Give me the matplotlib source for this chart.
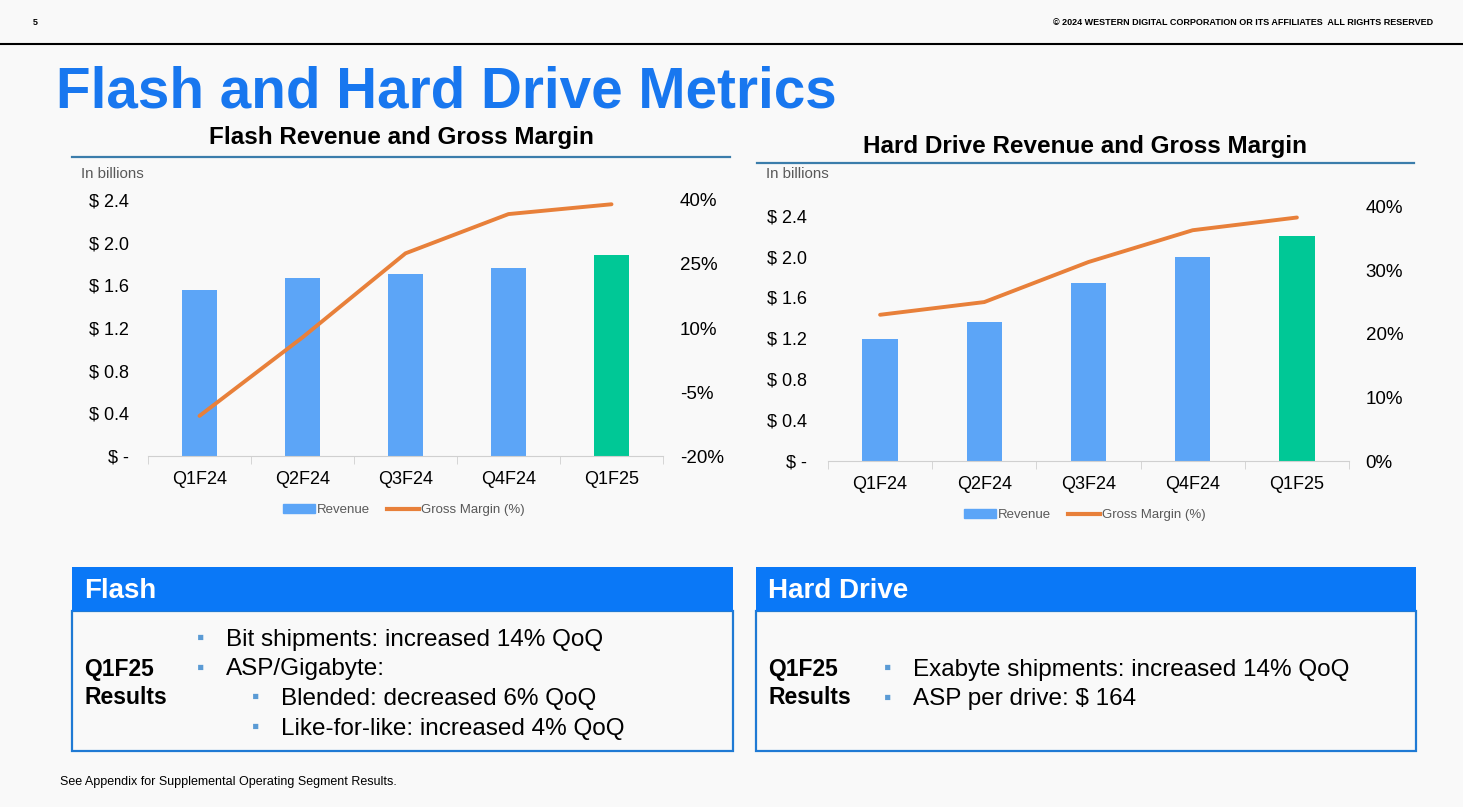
import matplotlib
matplotlib.use("Agg")
import matplotlib.pyplot as plt
from matplotlib.patches import Rectangle, Patch
from matplotlib.lines import Line2D
from matplotlib.ticker import FuncFormatter

plt.rcParams['font.family'] = ['Liberation Sans', 'DejaVu Sans']

# data
categories = ['Q1F24', 'Q2F24', 'Q3F24', 'Q4F24', 'Q1F25']
flash_revenue = [1.56, 1.67, 1.71, 1.76, 1.88]
flash_gm = [-10.6, 7.8, 27.5, 36.7, 39.0]
hdd_revenue = [1.19, 1.36, 1.74, 2.00, 2.20]
hdd_gm = [23.0, 25.0, 31.3, 36.3, 38.3]

flash_bullets = ['Bit shipments: increased 14% QoQ', 'ASP/Gigabyte:']
flash_sub_bullets = ['Blended: decreased 6% QoQ', 'Like-for-like: increased 4% QoQ']
hdd_bullets = ['Exabyte shipments: increased 14% QoQ', 'ASP per drive: $ 164']

BLUE_BAR = '#5ca5f7'
GREEN_BAR = '#00c896'
ORANGE = '#e8803a'
TITLE_BLUE = '#1877ef'
BOX_BLUE = '#0a78f7'
BG = '#f9f9f9'
W, H = 1463, 807

fig = plt.figure(figsize=(W / 100, H / 100), dpi=100, facecolor=BG)

# background "slide" axes in pixel coordinates
bg = fig.add_axes([0, 0, 1, 1], zorder=0)
bg.set_xlim(0, W)
bg.set_ylim(H, 0)
bg.axis('off')

bg.text(33, 25, '5', fontsize=6.5, fontweight='bold', va='baseline')
bg.text(1433, 25, '\u00a9 2024 WESTERN DIGITAL CORPORATION OR ITS AFFILIATES  ALL RIGHTS RESERVED',
        fontsize=6.5, fontweight='bold', ha='right', va='baseline')
bg.plot([0, W], [44, 44], color='black', lw=1.5)
bg.text(56, 108, 'Flash and Hard Drive Metrics', fontsize=40.8, fontweight='bold',
        color=TITLE_BLUE, va='baseline')


def px_box(x0, y0, x1, y1):
    return [x0 / W, 1 - y1 / H, (x1 - x0) / W, (y1 - y0) / H]


def money(v, pos):
    return '$ -' if abs(v) < 1e-9 else '$ %.1f' % v


def draw_chart(rect, rev, gm, ylim_rev, ylim_gm, gm_ticks, title, title_xy, line_x, line_y,
               legend_xy, lpad):
    ax = fig.add_axes(px_box(*rect), zorder=2)
    ax.patch.set_alpha(0)
    x = range(len(categories))
    colors = [BLUE_BAR] * (len(categories) - 1) + [GREEN_BAR]
    ax.bar(x, rev, width=0.34, color=colors, zorder=2)
    ax.set_xlim(-0.5, len(categories) - 0.5)
    ax.set_ylim(*ylim_rev)
    ax.set_yticks([0, 0.4, 0.8, 1.2, 1.6, 2.0, 2.4])
    ax.yaxis.set_major_formatter(FuncFormatter(money))
    ax.set_xticks(list(x))
    ax.set_xticklabels(categories)
    ax.set_xticks([i - 0.5 for i in range(len(categories) + 1)], minor=True)
    ax.tick_params(axis='x', which='major', length=0, pad=11, labelsize=13)
    ax.tick_params(axis='x', which='minor', length=6, color='#d0d0d0', direction='out')
    ax.tick_params(axis='y', length=0, pad=lpad, labelsize=13)
    for s in ['top', 'left', 'right']:
        ax.spines[s].set_visible(False)
    ax.spines['bottom'].set_color('#d0d0d0')

    ax2 = ax.twinx()
    ax2.patch.set_alpha(0)
    ax2.plot(list(x), gm, color=ORANGE, lw=2.8, solid_capstyle='round', zorder=3)
    ax2.set_ylim(*ylim_gm)
    ax2.set_yticks(gm_ticks)
    ax2.set_yticklabels(['%d%%' % t for t in gm_ticks])
    ax2.tick_params(axis='y', length=0, pad=12, labelsize=13.5)
    for s in ax2.spines.values():
        s.set_visible(False)

    handles = [Patch(color=BLUE_BAR), Line2D([], [], color=ORANGE, lw=3)]
    leg = ax2.legend(handles, ['Revenue', 'Gross Margin (%)'], loc='center',
                     bbox_to_anchor=(legend_xy[0] / W, 1 - legend_xy[1] / H),
                     bbox_transform=fig.transFigure, ncol=2, frameon=False, fontsize=9.5,
                     handlelength=2.4, handletextpad=0.15, columnspacing=1.3)
    for t in leg.get_texts():
        t.set_color('#595959')

    bg.text(title_xy[0], title_xy[1], title, fontsize=17.5, fontweight='bold',
            ha='center', va='baseline')
    bg.plot(line_x, [line_y, line_y], color='#3b7dab', lw=1.6)
    bg.text(line_x[0] + 9, 178, 'In billions', fontsize=10.8, color='#595959', va='baseline')


draw_chart((148, 200, 663, 456), flash_revenue, flash_gm, (0, 2.4), (-20, 40),
           [-20, -5, 10, 25, 40], 'Flash Revenue and Gross Margin', (401, 144),
           [72, 730], 157, (404, 510), 14)
draw_chart((828, 206.7, 1349, 461), hdd_revenue, hdd_gm, (0, 2.488), (0, 40),
           [0, 10, 20, 30, 40], 'Hard Drive Revenue and Gross Margin', (1085, 153),
           [757, 1414], 163, (1085, 515), 15)


def results_box(x0, x1, header, bullets, sub_bullets, bullet_x, first_y, qy):
    bg.add_patch(Rectangle((x0, 611), x1 - x0, 140, facecolor=BG, edgecolor='#1f7ad4', lw=1.6))
    bg.add_patch(Rectangle((x0, 567), x1 - x0, 44, facecolor=BOX_BLUE, edgecolor='none'))
    bg.text(x0 + 12, 598, header, fontsize=20, fontweight='bold', color='white', va='baseline')
    bg.text(x0 + 12, qy, 'Q1F25', fontsize=16.5, fontweight='bold', va='baseline')
    bg.text(x0 + 12, qy + 28, 'Results', fontsize=16.5, fontweight='bold', va='baseline')
    y = first_y
    for b in bullets:
        bg.text(bullet_x, y - 2, '\u25aa', fontsize=15, color='#5b9bd5', va='baseline')
        bg.text(bullet_x + 29, y, b, fontsize=17.5, va='baseline')
        y += 29.5
    for b in sub_bullets:
        bg.text(bullet_x + 55, y - 2, '\u25aa', fontsize=15, color='#5b9bd5', va='baseline')
        bg.text(bullet_x + 84, y, b, fontsize=17.5, va='baseline')
        y += 29.5


results_box(72, 733, 'Flash', flash_bullets, flash_sub_bullets, 197, 646, 676)
results_box(756, 1416, 'Hard Drive', hdd_bullets, [], 884, 676, 676)

bg.text(60, 785, 'See Appendix for Supplemental Operating Segment Results.', fontsize=9,
        va='baseline')

fig.savefig('out.png', dpi=100, facecolor=BG)
